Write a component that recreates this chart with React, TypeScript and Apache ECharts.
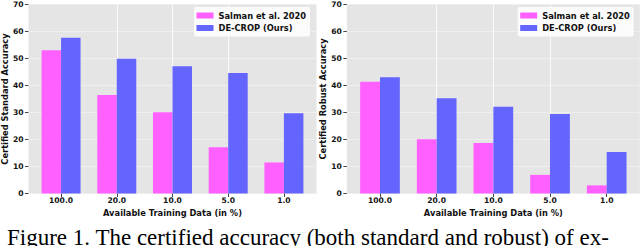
import React, { useEffect, useRef } from 'react';
import * as echarts from 'echarts';

const categories = ['100.0', '20.0', '10.0', '5.0', '1.0'];
const positions = [0, 1, 2, 3, 4];
const standardSalman = [53.1, 36.5, 30.1, 17.1, 11.5];
const standardDecrop = [57.7, 49.9, 47.1, 44.6, 29.7];
const robustSalman = [41.4, 20.1, 18.7, 6.9, 3.0];
const robustDecrop = [43.1, 35.3, 32.1, 29.4, 15.4];
const seriesNames = ['Salman et al. 2020', 'DE-CROP (Ours)'];
const yTitles = ['Certified Standard Accuracy', 'Certified Robust Accuracy'];
const xTitle = 'Available Training Data (in %)';
const caption = 'Figure 1. The certified accuracy (both standard and robust) of ex-';

const PINK = '#ff60ff';
const BLUE = '#6464ff';
const FONT = 'DejaVu Sans';

export default function App() {
  const ref = useRef<HTMLDivElement>(null);
  useEffect(() => {
    if (!ref.current) return;
    const chart = echarts.init(ref.current, undefined, { renderer: 'svg' });
    const panelLefts = [23.5, 346.85];
    const legendLefts = [194, 517.7];
    const panels = [
      [standardSalman, standardDecrop],
      [robustSalman, robustDecrop],
    ];
    const grids = panelLefts.map((l) => ({
      left: l,
      top: 4.5,
      width: 293,
      height: 189,
      show: true,
      backgroundColor: '#e5e5e5',
      borderWidth: 0,
    }));
    const xAxes = panelLefts.map((_, i) => ({
      type: 'value',
      gridIndex: i,
      min: -0.585,
      max: 4.585,
      splitNumber: 5,
      name: xTitle,
      nameLocation: 'middle',
      nameGap: 11,
      nameTextStyle: { fontFamily: FONT, fontWeight: 'bold', fontSize: 8.3, color: '#111', verticalAlign: 'top' },
      axisLine: { show: false, onZero: false },
      axisTick: { show: true, length: 3.5, customValues: positions, lineStyle: { color: '#444', width: 1 } },
      axisLabel: {
        show: true,
        customValues: positions,
        margin: 3,
        fontFamily: FONT,
        fontWeight: 'bold',
        fontSize: 7.6,
        color: '#111',
        formatter: (v: number) => categories[Math.round(v)] ?? '',
      },
      splitLine: { show: true, showMinLine: false, showMaxLine: false, lineStyle: { color: '#fafafa', width: 1 } },
    }));
    const yAxes = panelLefts.map((_, i) => ({
      type: 'value',
      gridIndex: i,
      min: 0,
      max: 70,
      interval: 10,
      name: yTitles[i],
      nameLocation: 'middle',
      nameGap: 17,
      nameTextStyle: { fontFamily: FONT, fontWeight: 'bold', fontSize: 8.3, color: '#111' },
      axisLine: { show: false, onZero: false },
      axisTick: { show: true, length: 3.5, lineStyle: { color: '#444', width: 1 } },
      axisLabel: { margin: 5, fontFamily: FONT, fontWeight: 'bold', fontSize: 7.6, color: '#111' },
      splitLine: { show: true, lineStyle: { color: '#efefef', width: 1 } },
    }));
    const series: any[] = [];
    panels.forEach((vals, i) => {
      vals.forEach((arr, s) => {
        series.push({
          type: 'bar',
          name: seriesNames[s],
          xAxisIndex: i,
          yAxisIndex: i,
          barWidth: '35%',
          barGap: '0%',
          itemStyle: { color: s === 0 ? PINK : BLUE },
          data: positions.map((p, k) => [p, arr[k]]),
        });
      });
    });
    const legends = legendLefts.map((l) => ({
      data: seriesNames.map((n) => ({ name: n, icon: 'rect' })),
      orient: 'vertical',
      left: l,
      top: 7,
      itemWidth: 17,
      itemHeight: 6,
      itemGap: 4.5,
      itemTextGap: 7,
      padding: [4.5, 4, 4.5, 2.5],
      backgroundColor: 'rgba(255,255,255,0.82)',
      borderRadius: 2,
      textStyle: { fontFamily: FONT, fontWeight: 'bold', fontSize: 8.3, color: '#111' },
    }));
    chart.setOption({
      animation: false,
      grid: grids,
      xAxis: xAxes,
      yAxis: yAxes,
      legend: legends,
      series,
      graphic: [
        {
          type: 'text',
          x: 7,
          y: 225.8,
          style: {
            text: caption,
            fontFamily: 'Liberation Serif',
            fontSize: 23,
            fill: '#000',
            verticalAlign: 'top',
            align: 'left',
          },
        },
      ],
    });
    return () => chart.dispose();
  }, []);
  return (
    <div
      ref={ref}
      style={{ position: 'fixed', left: 0, top: 0, width: 640, height: 246, background: '#fff' }}
    />
  );
}
